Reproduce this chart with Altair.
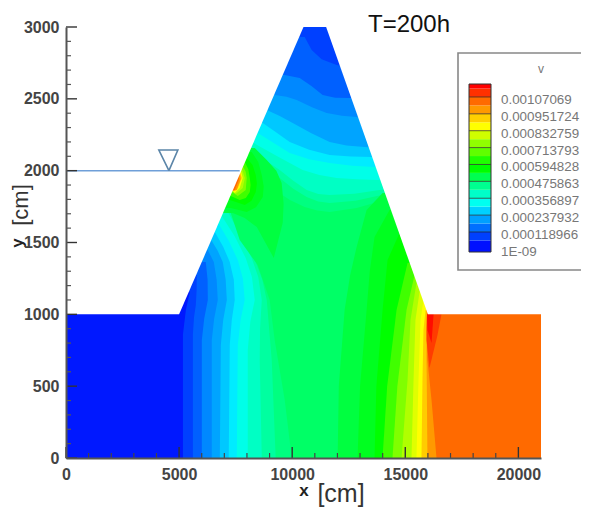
import altair as alt
import pandas as pd

FONT = "Liberation Sans"
X_DOMAIN = [0, 21000]
Y_DOMAIN = [0, 3000]
X_MAJOR = [0, 5000, 10000, 15000, 20000]
Y_MAJOR = [0, 500, 1000, 1500, 2000, 2500, 3000]
X_MINOR = [v for v in range(1000, 21000, 1000) if v % 5000]
Y_MINOR = [v for v in range(100, 3000, 100) if v % 500]

OUT_X = 4000
END_X = 21000


def region(left, arc):
    return left + [(OUT_X, left[-1][1])] + arc + [(END_X, arc[-1][1]), (END_X, 0)]


def right_region(curve):
    return curve + [(END_X, curve[-1][1]), (END_X, 0)]


# left-hand contours (bottom edge to the upstream slope)
C1 = [(5170, 0), (5170, 860), (5300, 1030), (5475, 1155)]
C2 = [(5610, 0), (5610, 860), (5660, 980), (5740, 1065), (5775, 1170), (5780, 1274)]
C3 = [(6005, 0), (6005, 821), (6110, 970), (6270, 1100), (6260, 1240), (6180, 1364)]
C4 = [(6445, 0), (6445, 821), (6550, 970), (6710, 1100), (6660, 1240), (6535, 1364), (6270, 1448)]
C5 = [(6800, 0), (6845, 786), (6950, 960), (7110, 1100), (7060, 1240), (6930, 1364), (6700, 1445), (6445, 1510)]
C6 = [(7195, 0), (7240, 786), (7330, 960), (7460, 1100), (7420, 1240), (7240, 1364), (6950, 1470), (6580, 1573)]
C7 = [(7550, 0), (7595, 786), (7720, 960), (7900, 1100), (7820, 1250), (7595, 1378), (7200, 1510), (6755, 1629)]
C8 = [(8035, 0), (8035, 752), (8150, 950), (8345, 1100), (8220, 1260), (7945, 1392), (7450, 1545), (6885, 1684)]
C9 = [(8655, 0), (8565, 682), (8580, 900), (8655, 1100), (8500, 1260), (8210, 1392), (7650, 1570), (7065, 1740)]
C10 = [(9270, 0), (9095, 682), (8980, 900), (8875, 1100), (8680, 1240), (8390, 1364), (7800, 1570), (7150, 1768)]
C11 = [(9980, 0), (9670, 404), (9225, 821), (9005, 1100), (8475, 1343), (7680, 1517), (7240, 1726)]

# upper arcs (upstream slope to downstream slope)
A1 = [(OUT_X, 3000)]
A2 = [(OUT_X, 2930), (10552, 2930), (10861, 2840), (11300, 2775), (11965, 2735), (13000, 2700)]
A3 = [(8500, 2700), (9669, 2666), (10331, 2645), (10850, 2590), (11347, 2526), (11900, 2508), (12539, 2506), (13500, 2500)]
A4 = [(8000, 2560), (9227, 2526), (9750, 2515), (10199, 2492), (10900, 2440), (11523, 2401), (12200, 2382), (12848, 2373), (14000, 2360)]
A5 = [(8000, 2480), (8874, 2422), (9450, 2380), (10022, 2332), (10850, 2260), (11656, 2199), (12400, 2175), (13201, 2165), (14500, 2150)]
A6 = [(7900, 2400), (8698, 2332), (9300, 2265), (9890, 2199), (10750, 2145), (11656, 2109), (12600, 2098), (13510, 2095), (14500, 2090)]
A7 = [(7700, 2340), (8477, 2262), (9200, 2190), (9890, 2123), (10750, 2080), (11656, 2053), (12650, 2035), (13642, 2025), (15000, 2010)]
A8 = [(7500, 2290), (8300, 2192), (9400, 2095), (10464, 2004), (11200, 1970), (11965, 1949), (12850, 1940), (13731, 1935), (15000, 1930)]
A9 = [(7400, 2230), (8124, 2144), (8800, 2075), (9448, 2004), (10050, 1930), (10640, 1865), (11150, 1838), (11656, 1830), (12750, 1840), (13863, 1865), (15000, 1880)]
A10 = [(7400, 2170), (8035, 2109), (8750, 2025), (9448, 1949), (10050, 1875), (10640, 1817), (11150, 1785), (11656, 1775), (12800, 1790), (13951, 1830), (15000, 1850)]
A11 = [(7300, 2100), (7903, 2053), (8550, 1960), (9227, 1865), (9900, 1795), (10552, 1747), (11100, 1722), (11656, 1712), (12850, 1740), (14084, 1796), (15000, 1820)]

# right-hand contours
R12 = [(12010, 0), (12060, 500), (12318, 1030), (12560, 1270), (12848, 1469), (13290, 1726), (13995, 1844), (15000, 1844)]
R13 = [(12890, 0), (13000, 500), (13290, 1030), (13430, 1300), (13640, 1538), (14305, 1726), (15500, 1726)]
R14 = [(13640, 0), (13720, 500), (13995, 1030), (14215, 1378), (14745, 1566), (15500, 1566)]
R15 = [(13995, 0), (14200, 500), (14615, 1030), (15100, 1357), (16000, 1357)]
R16 = [(14435, 0), (14650, 500), (15055, 1030), (15410, 1274), (16500, 1274)]
R17 = [(14835, 0), (15100, 543), (15230, 960), (15495, 1218), (16500, 1218)]
R18 = [(15275, 0), (15365, 543), (15450, 960), (15630, 1155), (16500, 1155)]
R19 = [(15495, 0), (15585, 543), (15675, 960), (15805, 1100), (16500, 1100)]
R20 = [(15715, 0), (15760, 543), (15805, 891), (15895, 1030), (16500, 1030)]
R21 = [(15980, 0), (15940, 682), (15940, 1100)]
R22 = [(16380, 0), (16160, 404), (15980, 682), (15940, 891), (15980, 1100)]
WEDGE = [(15960, 1000), (16600, 1000), (16425, 856), (16070, 626), (15940, 821)]
RED = [(15960, 1000), (16250, 1000), (16160, 800), (15980, 891)]

# hot spot on the upstream slope at the water line
S12 = [(8345, 2158), (8875, 2074), (9300, 2000), (9535, 1914), (9620, 1770), (9580, 1636), (9185, 1392), (8435, 1608), (7900, 1670), (7375, 1705), (6800, 1705), (7800, 2158)]
S13 = [(8210, 2130), (8500, 2060), (8655, 1970), (8740, 1890), (8700, 1817), (8400, 1745), (7990, 1712), (7285, 1740), (6800, 1740), (7700, 2130)]
S14 = [(7990, 2088), (8250, 2040), (8390, 1970), (8440, 1910), (8390, 1851), (8200, 1790), (7905, 1761), (7240, 1796), (6800, 1796), (7500, 2088)]
S15 = [(7905, 2060), (8060, 2010), (8125, 1949), (8160, 1900), (8125, 1851), (7950, 1810), (7680, 1796), (7285, 1823), (6800, 1823), (7500, 2060)]
S16 = [(7815, 2032), (7940, 1995), (7990, 1949), (7945, 1865), (7595, 1823), (7330, 1851), (6900, 1851), (7400, 2032)]
S17 = [(7770, 2018), (7905, 1949), (7815, 1879), (7505, 1837), (7330, 1865), (6900, 1865), (7400, 2018)]
S19 = [(7725, 2004), (7815, 1949), (7680, 1879), (7460, 1844), (7330, 1865), (6900, 1865), (7400, 2004)]
S20 = [(7680, 1998), (7770, 1949), (7595, 1879), (7415, 1858), (6900, 1858), (7400, 1998)]
S21 = [(7680, 1990), (7725, 1942), (7550, 1865), (7375, 1858), (6900, 1858), (7400, 1990)]
S22 = [(7680, 1990), (7640, 1935), (7460, 1865), (6900, 1865), (7400, 1990)]

BASE = [(0, 0), (0, 3000), (21000, 3000), (21000, 0)]

BANDS = [
    ("#0018ff", BASE),
    ("#0040ff", region(C1, A1)),
    ("#0060ff", region(C2, A2)),
    ("#0088ff", region(C3, A3)),
    ("#00a4ff", region(C4, A4)),
    ("#00c8ff", region(C5, A5)),
    ("#00ecff", region(C6, A6)),
    ("#00ffe8", region(C7, A7)),
    ("#00ffc4", region(C8, A8)),
    ("#00ffa0", region(C9, A9)),
    ("#00ff80", region(C10, A10)),
    ("#00ff66", region(C11, A11)),
    ("#00ff40", right_region(R12)),
    ("#00ff40", S12),
    ("#00ff20", right_region(R13)),
    ("#00ff20", S13),
    ("#00ff00", right_region(R14)),
    ("#00ff00", S14),
    ("#40ff00", right_region(R15)),
    ("#40ff00", S15),
    ("#80ff00", right_region(R16)),
    ("#80ff00", S16),
    ("#b0ff00", right_region(R17)),
    ("#b0ff00", S17),
    ("#e0ff00", right_region(R18)),
    ("#ffff00", right_region(R19)),
    ("#ffff00", S19),
    ("#ffcc00", right_region(R20)),
    ("#ffcc00", S20),
    ("#ff9900", right_region(R21)),
    ("#ff9900", S21),
    ("#ff6a00", right_region(R22)),
    ("#ff6a00", S22),
    ("#ff3c00", WEDGE),
    ("#ff0c00", RED),
]

MASK_LEFT = [(-300, 1000), (5000, 1000), (10500, 3000), (10500, 3200), (-300, 3200)]
MASK_RIGHT = [(11500, 3200), (11500, 3000), (16000, 1000), (21400, 1000), (21400, 3200)]
WATER_X = [0, 7680]
WATER_Y = [2000, 2000]
TRIANGLE = [(4550, 2000), (4105, 2144), (4945, 2144), (4550, 2000)]

LEGEND_STEP = 0.000118966
LEGEND_LABELS = ["1E-09", "0.000118966", "0.000237932", "0.000356897", "0.000475863",
                 "0.000594828", "0.000713793", "0.000832759", "0.000951724", "0.00107069"]
LEGEND_COLORS = ["#0010ff", "#0040ff", "#0070ff", "#00a0ff", "#00d0ff", "#00fff0", "#00ffc8", "#00ff90",
                 "#00ff50", "#00ff00", "#20ff00", "#60ff00", "#90ff00", "#d0ff00", "#ffff00", "#ffd000",
                 "#ff9900", "#ff6a00", "#ff3000", "#ff0000"]
LEGEND_MIN = -0.000022
LEGEND_MAX = 0.001162

xs = alt.Scale(domain=X_DOMAIN, nice=False, zero=False)
ys = alt.Scale(domain=Y_DOMAIN, nice=False, zero=False)


def polygons(items):
    rows = []
    for b, (color, pts) in enumerate(items):
        for i, (x, y) in enumerate(pts):
            rows.append({"band": b, "i": i, "x": x, "y": y, "color": color})
    return pd.DataFrame(rows)


X_NO = alt.X("x:Q", scale=xs, axis=None)
Y_NO = alt.Y("y:Q", scale=ys, axis=None)

contours = alt.Chart(polygons(BANDS)).mark_line(strokeWidth=0).encode(
    x=alt.X("x:Q", scale=xs, axis=alt.Axis(
        title=None, values=X_MAJOR, ticks=False, grid=False, domainColor="#555555", domainWidth=2,
        labelFont=FONT, labelFontSize=16, labelFontWeight="bold", labelColor="#444444",
        labelPadding=8, labelFlush=False, labelOverlap=False, format="d", zindex=1)),
    y=alt.Y("y:Q", scale=ys, axis=alt.Axis(
        title=None, values=Y_MAJOR, ticks=False, grid=False, domainColor="#555555", domainWidth=2,
        labelFont=FONT, labelFontSize=16, labelFontWeight="bold", labelColor="#444444",
        labelPadding=7, labelOverlap=False, format="d", zindex=1)),
    order="i:Q",
    detail="band:N",
    fill=alt.Fill("color:N", scale=None),
)

mask = alt.Chart(polygons([("#ffffff", MASK_LEFT), ("#ffffff", MASK_RIGHT)])).mark_line(strokeWidth=0).encode(
    x=X_NO, y=Y_NO, order="i:Q", detail="band:N", fill=alt.Fill("color:N", scale=None))

water = alt.Chart(pd.DataFrame({"x": WATER_X, "y": WATER_Y})).mark_line(
    color="#6f9fd8", strokeWidth=1.5).encode(x=X_NO, y=Y_NO)

triangle = alt.Chart(polygons([("#5b85a8", TRIANGLE)])).mark_line(
    color="#5b85a8", strokeWidth=1.6).encode(x=X_NO, y=Y_NO, order="i:Q")

x_major = alt.Chart(pd.DataFrame({"x": X_MAJOR})).mark_rule(color="#333333", strokeWidth=1.4).encode(
    x=X_NO, y=alt.value(431), y2=alt.value(420))
x_minor = alt.Chart(pd.DataFrame({"x": X_MINOR})).mark_rule(color="#444444", strokeWidth=1.2).encode(
    x=X_NO, y=alt.value(431), y2=alt.value(426))
y_major = alt.Chart(pd.DataFrame({"y": Y_MAJOR})).mark_rule(color="#333333", strokeWidth=1.4).encode(
    y=Y_NO, x=alt.value(0), x2=alt.value(11))
y_minor = alt.Chart(pd.DataFrame({"y": Y_MINOR})).mark_rule(color="#555555", strokeWidth=1.2).encode(
    y=Y_NO, x=alt.value(0), x2=alt.value(5))


def label(text, px, py, size, weight="normal", angle=0, color="#222222", align="center"):
    return alt.Chart(pd.DataFrame({"t": [text]})).mark_text(
        font=FONT, fontSize=size, fontWeight=weight, angle=angle, color=color, align=align, baseline="middle"
    ).encode(text="t:N", x=alt.value(px), y=alt.value(py))


legend_box = alt.Chart(pd.DataFrame({"a": [0]})).mark_rect(
    fill="#ffffff", stroke="#888888", strokeWidth=1.6).encode(
    x=alt.value(392), x2=alt.value(530), y=alt.value(26), y2=alt.value(243))

ly = alt.Scale(domain=[LEGEND_MIN, LEGEND_MAX], range=[225, 57], nice=False, zero=False)
half = LEGEND_STEP / 2
legend_df = pd.DataFrame({
    "lo": [LEGEND_MIN] + [half * k for k in range(1, 20)],
    "hi": [half * k for k in range(1, 20)] + [LEGEND_MAX],
    "color": LEGEND_COLORS,
})
legend_bar = alt.Chart(legend_df).mark_rect().encode(
    x=alt.value(403), x2=alt.value(425),
    y=alt.Y("lo:Q", scale=ly, axis=None), y2="hi:Q",
    fill=alt.Fill("color:N", scale=None))
legend_lines = alt.Chart(pd.DataFrame({"v": [LEGEND_STEP * k for k in range(1, 10)]})).mark_rule(
    color="#222222", opacity=0.7, strokeWidth=1).encode(
    y=alt.Y("v:Q", scale=ly, axis=None), x=alt.value(403), x2=alt.value(425))
legend_frame = alt.Chart(pd.DataFrame({"lo": [LEGEND_MIN], "hi": [LEGEND_MAX]})).mark_rect(
    fill="transparent", stroke="#333333", strokeWidth=1).encode(
    x=alt.value(403), x2=alt.value(425), y=alt.Y("lo:Q", scale=ly, axis=None), y2="hi:Q")
legend_text = alt.Chart(pd.DataFrame({
    "t": LEGEND_LABELS, "v": [1e-9] + [LEGEND_STEP * k for k in range(1, 10)]
})).mark_text(font=FONT, fontSize=13.4, color="#777777", align="left", dy=3).encode(
    text="t:N", y=alt.Y("v:Q", scale=ly, axis=None), x=alt.value(435))

chart = alt.layer(
    contours, mask, water, triangle, x_major, x_minor, y_major, y_minor,
    legend_box, legend_bar, legend_lines, legend_frame, legend_text,
    label("v", 475, 42, 12, color="#777777"),
    label("T=200h", 302, -2, 24, align="left", color="#111111"),
    label("[cm]", -45, 178, 22, angle=270, color="#333333"),
    label("y", -48, 216, 17, weight="bold", angle=270, color="#222222"),
    label("x", 238, 464, 17, weight="bold", color="#222222"),
    label("[cm]", 275, 467, 25, color="#333333"),
).resolve_scale(x="independent", y="independent").properties(
    width=475, height=431,
    padding={"left": 58, "top": 19, "right": 40, "bottom": 50},
    autosize=alt.AutoSizeParams(type="none"),
).configure_view(stroke=None)

chart.save("out.html", embed_options={"renderer": "svg", "actions": False})
